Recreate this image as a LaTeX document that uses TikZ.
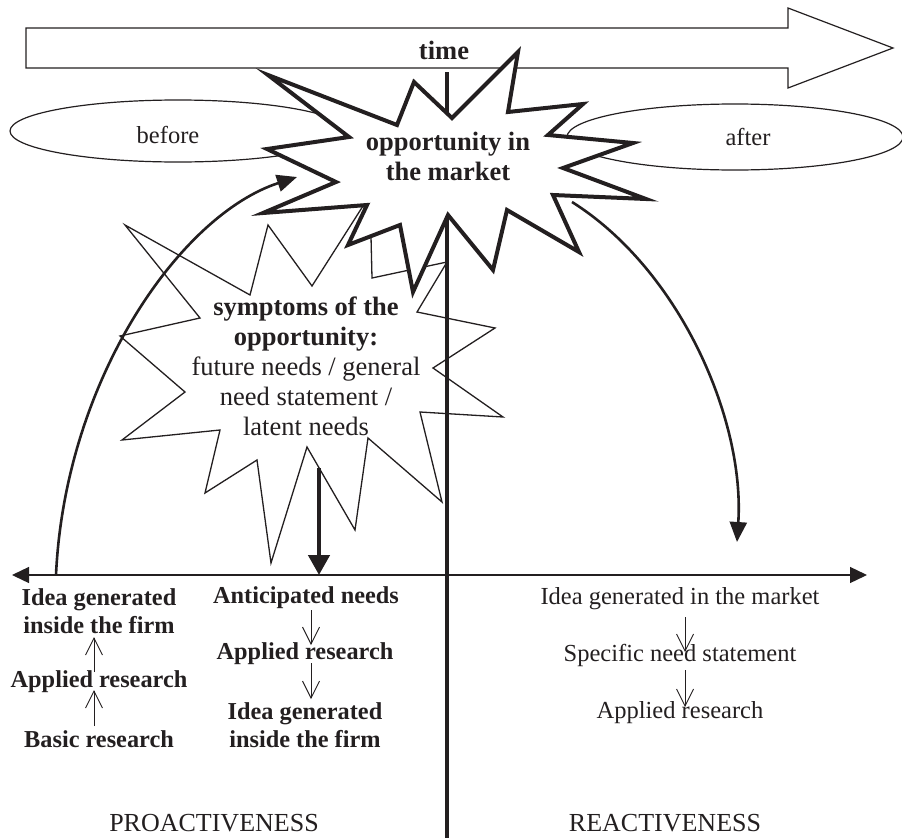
\documentclass[tikz,border=0pt]{standalone}
\usepackage{fontspec}
\setmainfont{Liberation Serif}
\usetikzlibrary{arrows.meta,shapes.geometric}
\definecolor{ink}{RGB}{35,31,32}

\begin{document}
\begin{tikzpicture}[x=1pt,y=-1pt,color=ink,text=ink,
  txt/.style={inner sep=0pt,align=center,font=\fontsize{24.5}{28}\selectfont},
  txtb/.style={inner sep=0pt,align=center,font=\fontsize{24.3}{28}\selectfont\bfseries},
  startxt/.style={inner sep=0pt,align=center,font=\fontsize{26.5}{30}\selectfont},
  sidetxt/.style={inner sep=0pt,font=\fontsize{26}{30}\selectfont},
  thinline/.style={line width=1.2pt,line join=miter},
  bigstar/.style={line width=4pt,line join=miter,miter limit=12,fill=white},
  smallstar/.style={line width=1.3pt,line join=miter,fill=white},
  oval/.style={draw,ellipse,line width=1.2pt,inner sep=0pt},
  smallarr/.style={line width=0.9pt,-{Straight Barb[length=17pt,width=17pt,line width=0.9pt]}},
  curvearr/.style={line width=2.6pt,-{Triangle[length=20pt,width=17pt]}},
  downarr/.style={line width=4.5pt,-{Triangle[length=20pt,width=21pt]}},
  axis/.style={line width=1.3pt,{Triangle[length=17pt,width=16pt]}-{Triangle[length=17pt,width=16pt]}}]

\useasboundingbox (0,0) rectangle (902,838);

% time arrow
\draw[thinline,fill=white] (26,28) -- (788,28) -- (788,8) -- (893,48) -- (788,88) -- (788,68) -- (26,68) -- cycle;

% before / after ovals
\node[oval,minimum width=336pt,minimum height=62pt] (beforeoval) at (178,131) {};
\node[oval,minimum width=336pt,minimum height=66pt] (afteroval) at (735,137) {};
\node[txt] (before) at (168,135) {before};
\node[txt] (after) at (748,137) {after};

% symptoms burst
\draw[smallstar] (125,225) -- (250,295) -- (268,225) -- (312,286) -- (370,195) -- (372,278)
  -- (447,262) -- (417,312) -- (495,328) -- (433,368) -- (503,417) -- (420,412)
  -- (442,502) -- (368,438) -- (355,530) -- (307,447) -- (271,563) -- (257,460)
  -- (205,493) -- (220,430) -- (122,440) -- (185,392) -- (120,336) -- (200,318) -- cycle;
\node[startxt] (symptoms) at (306,366) {\bfseries symptoms of the\\ \bfseries opportunity:\\future needs / general\\need statement /\\latent needs};

% axes
\coordinate (axL) at (12,575);
\coordinate (axR) at (867,575);
\draw[axis] (axL) -- (axR);
\coordinate (vtop) at (447,72);
\coordinate (vbot) at (447,838);
\draw[line width=4.5pt] (vtop) -- (vbot);

% connectors around the opportunity burst
\coordinate (lstart) at (56,575);
\coordinate (lend) at (297,177);
\draw[curvearr] (lstart) .. controls (65,380) and (180,215) .. (lend);
\coordinate (rstart) at (572,202);
\coordinate (rend) at (737,542);
\draw[curvearr] (rstart) .. controls (680,270) and (745,420) .. (rend);
\coordinate (dstart) at (319,468);
\coordinate (dend) at (319,575);
\draw[downarr] (dstart) -- (dend);

% opportunity burst
\draw[bigstar] (518,52) -- (508,112) -- (583,104) -- (548,135) -- (633,143) -- (563,168)
  -- (646,199) -- (553,195) -- (579,252) -- (507,210) -- (493,270) -- (448,215)
  -- (413,292) -- (400,225) -- (348,245) -- (367,205) -- (263,213) -- (336,182)
  -- (267,149) -- (349,137) -- (268,75) -- (397,125) -- (414,82) -- (452,118) -- cycle;
\node[startxt] (opp) at (448,156) {\bfseries opportunity in\\ \bfseries the market};
\node[startxt] (time) at (444,50) {\bfseries time};

% proactive chain (left)
\node[txtb] (l1) at (99,611) {Idea generated\\inside the firm};
\node[txtb] (l2) at (99,682) {Applied research};
\node[txtb] (l3) at (99,739) {Basic research};
\coordinate (a1s) at (94,672); \coordinate (a1e) at (94,637);
\coordinate (a2s) at (94,726); \coordinate (a2e) at (94,690);
\draw[smallarr] (a1s) -- (a1e);
\draw[smallarr] (a2s) -- (a2e);

% proactive chain (middle)
\node[txtb] (m1) at (306,598) {Anticipated needs};
\node[txtb] (m2) at (305,654) {Applied research};
\node[txtb] (m3) at (305,725) {Idea generated\\inside the firm};
\coordinate (b1s) at (311,610); \coordinate (b1e) at (311,645);
\coordinate (b2s) at (311,663); \coordinate (b2e) at (311,699);
\draw[smallarr] (b1s) -- (b1e);
\draw[smallarr] (b2s) -- (b2e);

% reactive chain (right)
\node[txt] (r1) at (680,599) {Idea generated in the market};
\node[txt] (r2) at (680,655) {Specific need statement};
\node[txt] (r3) at (680,713) {Applied research};
\coordinate (c1s) at (685,617); \coordinate (c1e) at (685,652);
\coordinate (c2s) at (685,670); \coordinate (c2e) at (685,707);
\draw[smallarr] (c1s) -- (c1e);
\draw[smallarr] (c2s) -- (c2e);

% section labels
\node[sidetxt] (pro) at (214,823) {PROACTIVENESS};
\node[sidetxt] (re) at (665,823) {REACTIVENESS};
\end{tikzpicture}
\end{document}
